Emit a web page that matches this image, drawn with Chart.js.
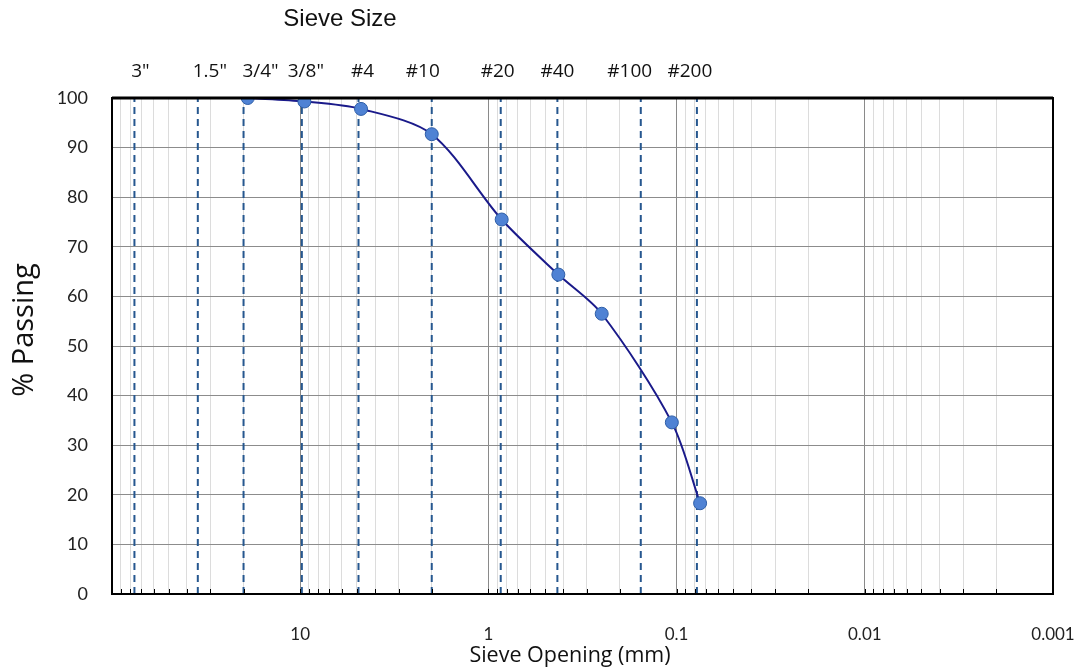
<!DOCTYPE html>
<html>
<head>
<meta charset="utf-8">
<style>
	html, body { margin: 0; padding: 0; background: #fff; }
	#wrap { width: 1076px; height: 670px; }
</style>
<script src="https://cdn.jsdelivr.net/npm/chart.js@4/dist/chart.umd.min.js"></script>
</head>
<body>
<div id="wrap"><canvas id="gradation"></canvas></div>
<script>
// sample gradation (sieve opening in mm, % passing)
const openingMm = [19, 9.5, 4.75, 2.0, 0.85, 0.425, 0.25, 0.106, 0.075];
const percentPassing = [100, 99.3, 97.8, 92.7, 75.5, 64.4, 56.5, 34.6, 18.3];

// reference sieve lines along the top
const sieveNames = ['3"', '1.5"', '3/4"', '3/8"', '#4', '#10', '#20', '#40', '#100', '#200'];
const sieveMm = [76, 35, 20, 9.8, 4.9, 2.0, 0.86, 0.43, 0.155, 0.078];

const xDecades = [100, 10, 1, 0.1, 0.01, 0.001];
const yTicks = [0, 10, 20, 30, 40, 50, 60, 70, 80, 90, 100];

function buildLogTicks() {
	const out = [];
	for (let d = 0.001; d < 100; d *= 10) {
		for (let m = 1; m < 10; m++) {
			out.push({ value: +(d * m).toPrecision(3) });
		}
	}
	out.push({ value: 100 });
	return out;
}

function isDecade(v) {
	return xDecades.some(function(d) { return Math.abs(v - d) / d < 1e-6; });
}

const sieveDatasets = sieveMm.map(function(mm, i) {
	return {
		label: sieveNames[i],
		data: [{ x: mm, y: 0 }, { x: mm, y: 100 }],
		borderColor: '#26578f',
		borderWidth: 2,
		borderDash: [7, 5],
		pointRadius: 0,
		fill: false,
		order: 2
	};
});

const overlay = {
	id: 'overlay',
	afterDraw: function(chart) {
		const c = chart.ctx;
		const a = chart.chartArea;
		const xs = chart.scales.x;
		c.save();

		// small inside ticks along the bottom
		c.strokeStyle = '#000';
		c.lineWidth = 1;
		xs.ticks.forEach(function(t) {
			const px = Math.round(xs.getPixelForValue(t.value)) + 0.5;
			c.beginPath();
			c.moveTo(px, a.bottom);
			c.lineTo(px, a.bottom - 5);
			c.stroke();
		});

		// frame
		c.strokeStyle = '#000';
		c.lineWidth = 2;
		c.strokeRect(a.left, a.top, a.right - a.left, a.bottom - a.top);
		c.lineWidth = 3;
		c.beginPath();
		c.moveTo(a.left, a.top);
		c.lineTo(a.right, a.top);
		c.stroke();

		// sieve labels
		const nudge = [6, 12, 17, 4, 4, -9, -3, 0, -11, -7];
		c.fillStyle = '#111';
		c.font = '19px "Open Sans", sans-serif';
		c.textAlign = 'center';
		c.textBaseline = 'middle';
		sieveNames.forEach(function(name, i) {
			c.fillText(name, xs.getPixelForValue(sieveMm[i]) + nudge[i], 72);
		});

		c.font = '24px "Liberation Sans", Arial, sans-serif';
		c.fillText('Sieve Size', 340, 19);

		c.font = '21.5px "Open Sans", sans-serif';
		c.fillText('Sieve Opening (mm)', 570, 656);

		c.translate(25, 330);
		c.rotate(-Math.PI / 2);
		c.font = '500 29px "Open Sans", sans-serif';
		c.fillText('% Passing', 0, 0);
		c.restore();
	}
};

new Chart(document.getElementById('gradation').getContext('2d'), {
	type: 'line',
	data: {
		datasets: [{
			label: '% Passing',
			data: openingMm.map(function(mm, i) { return { x: mm, y: percentPassing[i] }; }),
			borderColor: '#1a1a8a',
			borderWidth: 2,
			tension: 0.3,
			pointRadius: 6.5,
			pointBackgroundColor: '#4f82d4',
			pointBorderColor: '#2d5da6',
			pointBorderWidth: 1,
			fill: false,
			order: 1
		}].concat(sieveDatasets)
	},
	options: {
		responsive: true,
		maintainAspectRatio: false,
		animation: false,
		layout: { padding: { top: 98, right: 23, left: 0, bottom: 0 } },
		plugins: {
			legend: { display: false },
			title: { display: false },
			tooltip: { enabled: false }
		},
		scales: {
			x: {
				type: 'logarithmic',
				reverse: true,
				min: 0.001,
				max: 100,
				afterBuildTicks: function(scale) {
					scale.ticks = buildLogTicks();
				},
				afterFit: function(scale) {
					scale.height = 76;
				},
				border: { display: false },
				grid: {
					drawTicks: false,
					lineWidth: 1,
					color: function(ctx) {
						return isDecade(ctx.tick.value) ? '#8a8a8a' : '#dcdcdc';
					}
				},
				ticks: {
					autoSkip: false,
					maxRotation: 0,
					minRotation: 0,
					padding: 30,
					color: '#222',
					font: { family: 'Lato, sans-serif', size: 17 },
					callback: function(v) {
						if (v === 100 || !isDecade(v)) return '';
						return String(v);
					}
				}
			},
			y: {
				min: 0,
				max: 100,
				afterBuildTicks: function(scale) {
					scale.ticks = yTicks.map(function(v) { return { value: v }; });
				},
				afterFit: function(scale) {
					scale.width = 112;
				},
				border: { display: false },
				grid: { drawTicks: false, color: '#8c8c8c', lineWidth: 1 },
				ticks: {
					padding: 24,
					color: '#222',
					font: { family: 'Lato, sans-serif', size: 18 }
				}
			}
		}
	},
	plugins: [overlay]
});
</script>
</body>
</html>
